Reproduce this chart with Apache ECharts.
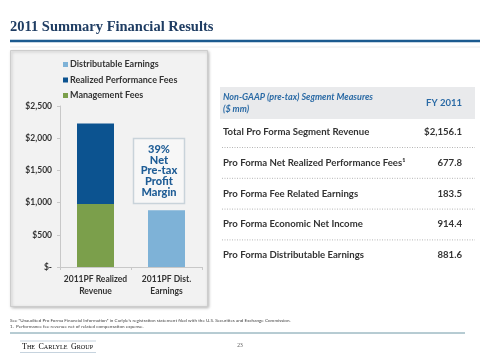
<!DOCTYPE html>
<html><head><meta charset="utf-8">
<script src="https://cdn.jsdelivr.net/npm/echarts@6/dist/echarts.min.js"></script>
<style>html,body{margin:0;padding:0;background:#fff}#c{width:480px;height:359px}</style>
</head><body><div id="c"></div>
<script>
var categories = ['2011PF Realized\nRevenue', '2011PF Dist.\nEarnings'];
var managementFees = [978, '-'];
var realizedPerfFees = [1250, '-'];
var distributableEarnings = ['-', 881.6];
var yTickLabels = ['$-', '$500', '$1,000', '$1,500', '$2,000', '$2,500'];
var tableHeader = ['Non-GAAP (pre-tax) Segment Measures', '($ mm)', 'FY 2011'];
var tableLabels = ['Total Pro Forma Segment Revenue', 'Pro Forma Net Realized Performance Fees', 'Pro Forma Fee Related Earnings', 'Pro Forma Economic Net Income', 'Pro Forma Distributable Earnings'];
var tableValues = ['$2,156.1', '677.8', '183.5', '914.4', '881.6'];
var marginText = ['39%', 'Net', 'Pre-tax', 'Profit', 'Margin'];

var chart = echarts.init(document.getElementById('c'), null, {renderer: 'canvas'});
var sans = 'Lato';
var g = [];
// title
g.push({type:'text', left:10, top:20, z:5, style:{text:'2011 Summary Financial Results', font:'bold 14.5px "Liberation Serif"', fill:'#1f3d63'}});
g.push({type:'line', z:5, shape:{x1:10,y1:41,x2:480,y2:41}, style:{stroke:'#1b5a8f', lineWidth:2.5}});
g.push({type:'line', z:5, shape:{x1:10,y1:47,x2:480,y2:47}, style:{stroke:'#ececec', lineWidth:1}});
// chart panel
g.push({type:'rect', z:-10, shape:{x:10.5,y:50.5,width:197,height:256}, style:{fill:'#f2f2f2', stroke:'#cdcdcd', lineWidth:1, shadowBlur:3, shadowColor:'rgba(0,0,0,0.25)', shadowOffsetX:1, shadowOffsetY:1}});
// margin box
g.push({type:'rect', z:5, shape:{x:133.5,y:138.5,width:51,height:65}, style:{fill:'#f7f7f7', stroke:'#c9d3da', lineWidth:1.5}});
marginText.forEach(function(t,i){
  g.push({type:'text', z:6, x:159, y:149.5+i*10.7, style:{text:t, font:'900 11px '+sans, fill:'#1f5d96', textAlign:'center', textVerticalAlign:'middle'}});
});
// table header
g.push({type:'rect', z:1, shape:{x:220,y:87,width:255,height:32}, style:{fill:'#e9eaec'}});
g.push({type:'text', z:2, x:223, y:97, style:{text:tableHeader[0], font:'italic bold 9px '+sans, fill:'#2a6aa5', textVerticalAlign:'middle'}});
g.push({type:'text', z:2, x:223, y:109, style:{text:tableHeader[1], font:'italic bold 9px '+sans, fill:'#2a6aa5', textVerticalAlign:'middle'}});
g.push({type:'text', z:2, x:462, y:103, style:{text:tableHeader[2], font:'bold 9.5px '+sans, fill:'#2a6aa5', textAlign:'right', textVerticalAlign:'middle'}});
tableLabels.forEach(function(t,i){
  var y = 132 + i*30.8;
  g.push({type:'text', z:2, x:223, y:y, style:{text:t + (i===1?'\u00b9':''), font:'bold 9.6px '+sans, fill:'#333', textVerticalAlign:'middle'}});
  g.push({type:'text', z:2, x:462, y:y, style:{text:tableValues[i], font:'bold 9.6px '+sans, fill:'#333', textAlign:'right', textVerticalAlign:'middle'}});
  if (i < tableLabels.length-1) {
    g.push({type:'line', z:2, shape:{x1:222,y1:y+15.5,x2:475,y2:y+15.5}, style:{stroke:'#b5b5b5', lineWidth:1, lineDash:[1,1.5]}});
  }
});
// footer
g.push({type:'text', z:2, x:10, y:321, style:{text:'See \u201cUnaudited Pro Forma Financial Information\u201d in Carlyle\u2019s registration statement filed with the U.S. Securities and Exchange Commission.', font:'4.6px '+sans, fill:'#444', textVerticalAlign:'middle'}});
g.push({type:'text', z:2, x:10, y:327, style:{text:'1.  Performance fee revenue net of related compensation expense.', font:'4.6px '+sans, fill:'#444', textVerticalAlign:'middle'}});
g.push({type:'line', z:2, shape:{x1:10,y1:333,x2:465,y2:333}, style:{stroke:'#6e98a6', lineWidth:1}});
g.push({type:'line', z:2, shape:{x1:20,y1:341,x2:96,y2:341}, style:{stroke:'#b7c8d6', lineWidth:0.8}});
g.push({type:'line', z:2, shape:{x1:20,y1:352.5,x2:96,y2:352.5}, style:{stroke:'#b7c8d6', lineWidth:0.8}});
g.push({type:'text', z:2, x:22, y:347, style:{text:'{b|T}{s|HE} {b|C}{s|ARLYLE} {b|G}{s|ROUP}', textVerticalAlign:'middle', rich:{b:{fontSize:8, fontFamily:'Liberation Serif', color:'#2c4a6e'}, s:{fontSize:6.2, fontFamily:'Liberation Serif', color:'#2c4a6e'}}}});
g.push({type:'text', z:2, x:240, y:346, style:{text:'23', font:'5.5px "Liberation Serif"', fill:'#555', textAlign:'center', textVerticalAlign:'middle'}});

chart.setOption({
  animation: false,
  backgroundColor: '#ffffff',
  graphic: g,
  legend: {
    orient: 'vertical', left: 58, top: 55, itemWidth: 5, itemHeight: 5, itemGap: 6.5, icon: 'rect',
    data: ['Distributable Earnings', 'Realized Performance Fees', 'Management Fees'],
    textStyle: {fontFamily: sans, fontWeight: 'bold', fontSize: 9, color: '#333', padding: [0,0,0,-3]},
    selectedMode: false
  },
  grid: {left: 60, right: 278, top: 106, bottom: 92},
  xAxis: {
    type: 'category', data: categories,
    axisLine: {lineStyle: {color: '#c8c8c8'}},
    axisTick: {show: true, length: 3, lineStyle: {color: '#c8c8c8'}},
    axisLabel: {fontFamily: sans, fontWeight: 'bold', fontSize: 8.5, color: '#333', lineHeight: 12.5, margin: 6, interval: 0}
  },
  yAxis: {
    type: 'value', min: 0, max: 2500, interval: 500,
    axisLine: {show: true, lineStyle: {color: '#c8c8c8'}},
    axisTick: {show: true, length: 3, lineStyle: {color: '#c8c8c8'}},
    splitLine: {show: false},
    axisLabel: {fontFamily: sans, fontWeight: 'bold', fontSize: 8.5, color: '#333', margin: 8,
      formatter: function(v){ return yTickLabels[Math.round(v/500)]; }}
  },
  series: [
    {name: 'Management Fees', type: 'bar', stack: 'a', data: managementFees, barWidth: 37, itemStyle: {color: '#7b9f4b'}},
    {name: 'Realized Performance Fees', type: 'bar', stack: 'a', data: realizedPerfFees, barWidth: 37, itemStyle: {color: '#0c5390'}},
    {name: 'Distributable Earnings', type: 'bar', stack: 'a', data: distributableEarnings, barWidth: 37, itemStyle: {color: '#7eb2d7'}}
  ]
});
</script></body></html>
